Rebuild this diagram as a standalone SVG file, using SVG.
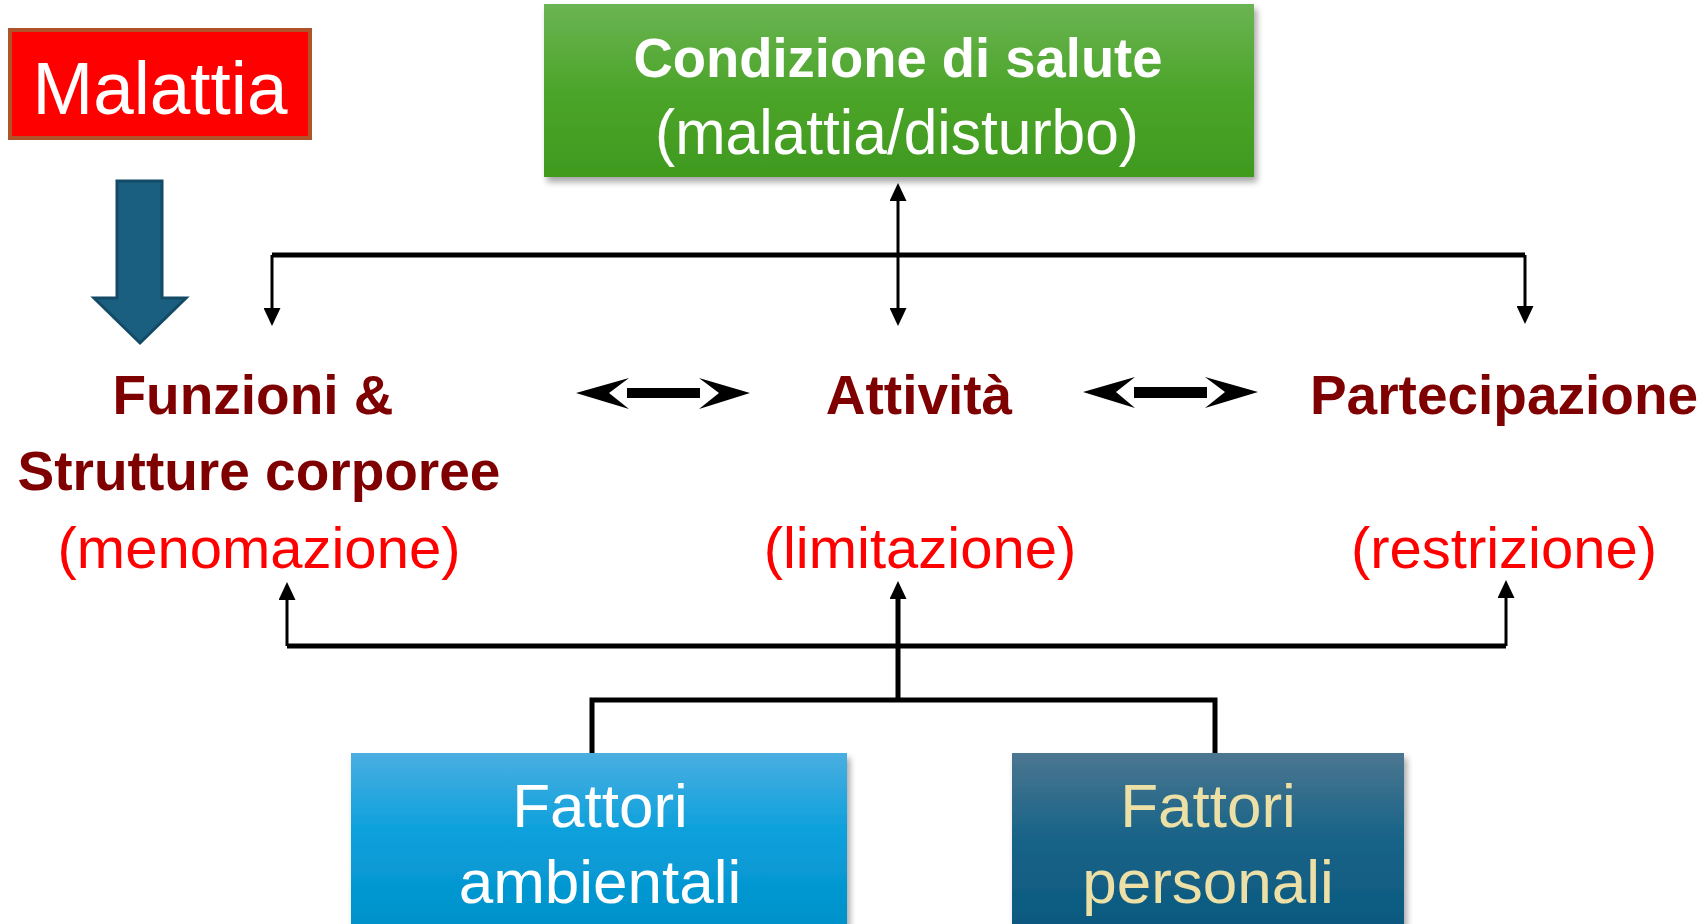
<svg xmlns="http://www.w3.org/2000/svg" width="1706" height="924" viewBox="0 0 1706 924">
<defs>
<linearGradient id="gGreen" x1="0" y1="0" x2="0" y2="1">
<stop offset="0" stop-color="#6bb453"/>
<stop offset="0.5" stop-color="#4ca52a"/>
<stop offset="1" stop-color="#3f9a1e"/>
</linearGradient>
<linearGradient id="gBlue" x1="0" y1="0" x2="0" y2="1">
<stop offset="0" stop-color="#4aaee0"/>
<stop offset="0.45" stop-color="#0aa0dc"/>
<stop offset="1" stop-color="#0290c8"/>
</linearGradient>
<linearGradient id="gDark" x1="0" y1="0" x2="0" y2="1">
<stop offset="0" stop-color="#4b7690"/>
<stop offset="0.45" stop-color="#1a6488"/>
<stop offset="1" stop-color="#0b5880"/>
</linearGradient>
<filter id="shadow" x="-5%" y="-10%" width="115%" height="130%">
<feDropShadow dx="3" dy="5" stdDeviation="3" flood-color="#000" flood-opacity="0.35"/>
</filter>
<marker id="ah" viewBox="0 0 18 17" refX="0" refY="8.5" markerWidth="18" markerHeight="17" markerUnits="userSpaceOnUse" orient="auto-start-reverse">
<path d="M0,0 L18,8.5 L0,17 Z" fill="#000"/>
</marker>
<style>
.lbl{font-family:"Liberation Sans",Arial,sans-serif;text-anchor:middle}
.bold{font-weight:bold;fill:#7f0000;font-size:55px}
.sub{fill:#ff0000;font-size:58px}
.thick{stroke:#000;stroke-width:5;fill:none}
.thin{stroke:#000;stroke-width:3;fill:none}
.dbl{fill:#000}
</style>
</defs>
<rect x="0" y="0" width="1706" height="924" fill="#fff"/>

<g id="malattia">
<rect x="10" y="30" width="300" height="108" fill="#ff0000" stroke="#b0522a" stroke-width="4"/>
<text class="lbl" x="160" y="114" font-size="75" fill="#fff" textLength="255" lengthAdjust="spacingAndGlyphs">Malattia</text>
</g>

<g id="malattia-arrow">
<polygon points="117,181 162,181 162,298 186,298 140,343 94,298 117,298" fill="#1a5f80" stroke="#134b66" stroke-width="3"/>
</g>

<g id="condizione">
<rect x="544" y="4" width="710" height="173" fill="url(#gGreen)" filter="url(#shadow)"/>
<text class="lbl" x="898" y="77" font-size="55" font-weight="bold" fill="#fff" textLength="529" lengthAdjust="spacingAndGlyphs">Condizione di salute</text>
<text class="lbl" x="897" y="154" font-size="63" fill="#fff" textLength="484" lengthAdjust="spacingAndGlyphs">(malattia/disturbo)</text>
</g>

<g id="funzioni">
<text class="lbl bold" x="253" y="414">Funzioni &amp;</text>
<text class="lbl bold" x="259" y="490">Strutture corporee</text>
<text class="lbl sub" x="259" y="568">(menomazione)</text>
</g>

<g id="attivita">
<text class="lbl bold" x="919" y="414">Attività</text>
<text class="lbl sub" x="920" y="568">(limitazione)</text>
</g>

<g id="partecipazione">
<text class="lbl bold" x="1504" y="414">Partecipazione</text>
<text class="lbl sub" x="1504" y="568">(restrizione)</text>
</g>

<g id="ambientali">
<rect x="351" y="753" width="496" height="180" fill="url(#gBlue)" filter="url(#shadow)"/>
<text class="lbl" x="600" y="827" font-size="62" fill="#fff">Fattori</text>
<text class="lbl" x="600" y="903" font-size="62" fill="#fff">ambientali</text>
</g>

<g id="personali">
<rect x="1012" y="753" width="392" height="180" fill="url(#gDark)" filter="url(#shadow)"/>
<text class="lbl" x="1208" y="827" font-size="62" fill="#ece0a6">Fattori</text>
<text class="lbl" x="1208" y="903" font-size="62" fill="#ece0a6">personali</text>
</g>

<g id="connectors">
<path class="thick" d="M272,255 H1525"/>
<path class="thin" d="M272,255 V308" marker-end="url(#ah)"/>
<path class="thin" d="M1525,255 V306" marker-end="url(#ah)"/>
<path class="thin" d="M898,201 V308" marker-start="url(#ah)" marker-end="url(#ah)"/>
<path class="thick" d="M287,646 H1506"/>
<path class="thin" d="M287,646 V600" marker-end="url(#ah)"/>
<path class="thin" d="M1506,646 V598" marker-end="url(#ah)"/>
<path class="thick" d="M898,700 V599" marker-end="url(#ah)"/>
<path class="thick" d="M592,753 V700 H1215 V753"/>
<polygon class="dbl" points="576,393 629,378 609,393 629,409"/>
<rect class="dbl" x="627" y="388" width="73" height="10"/>
<polygon class="dbl" points="750,393 699,378 719,393 699,409"/>
<polygon class="dbl" points="1083,392 1135,377 1116,392 1135,408"/>
<rect class="dbl" x="1134" y="387" width="73" height="11"/>
<polygon class="dbl" points="1258,392 1205,377 1225,392 1205,408"/>
</g>
</svg>
